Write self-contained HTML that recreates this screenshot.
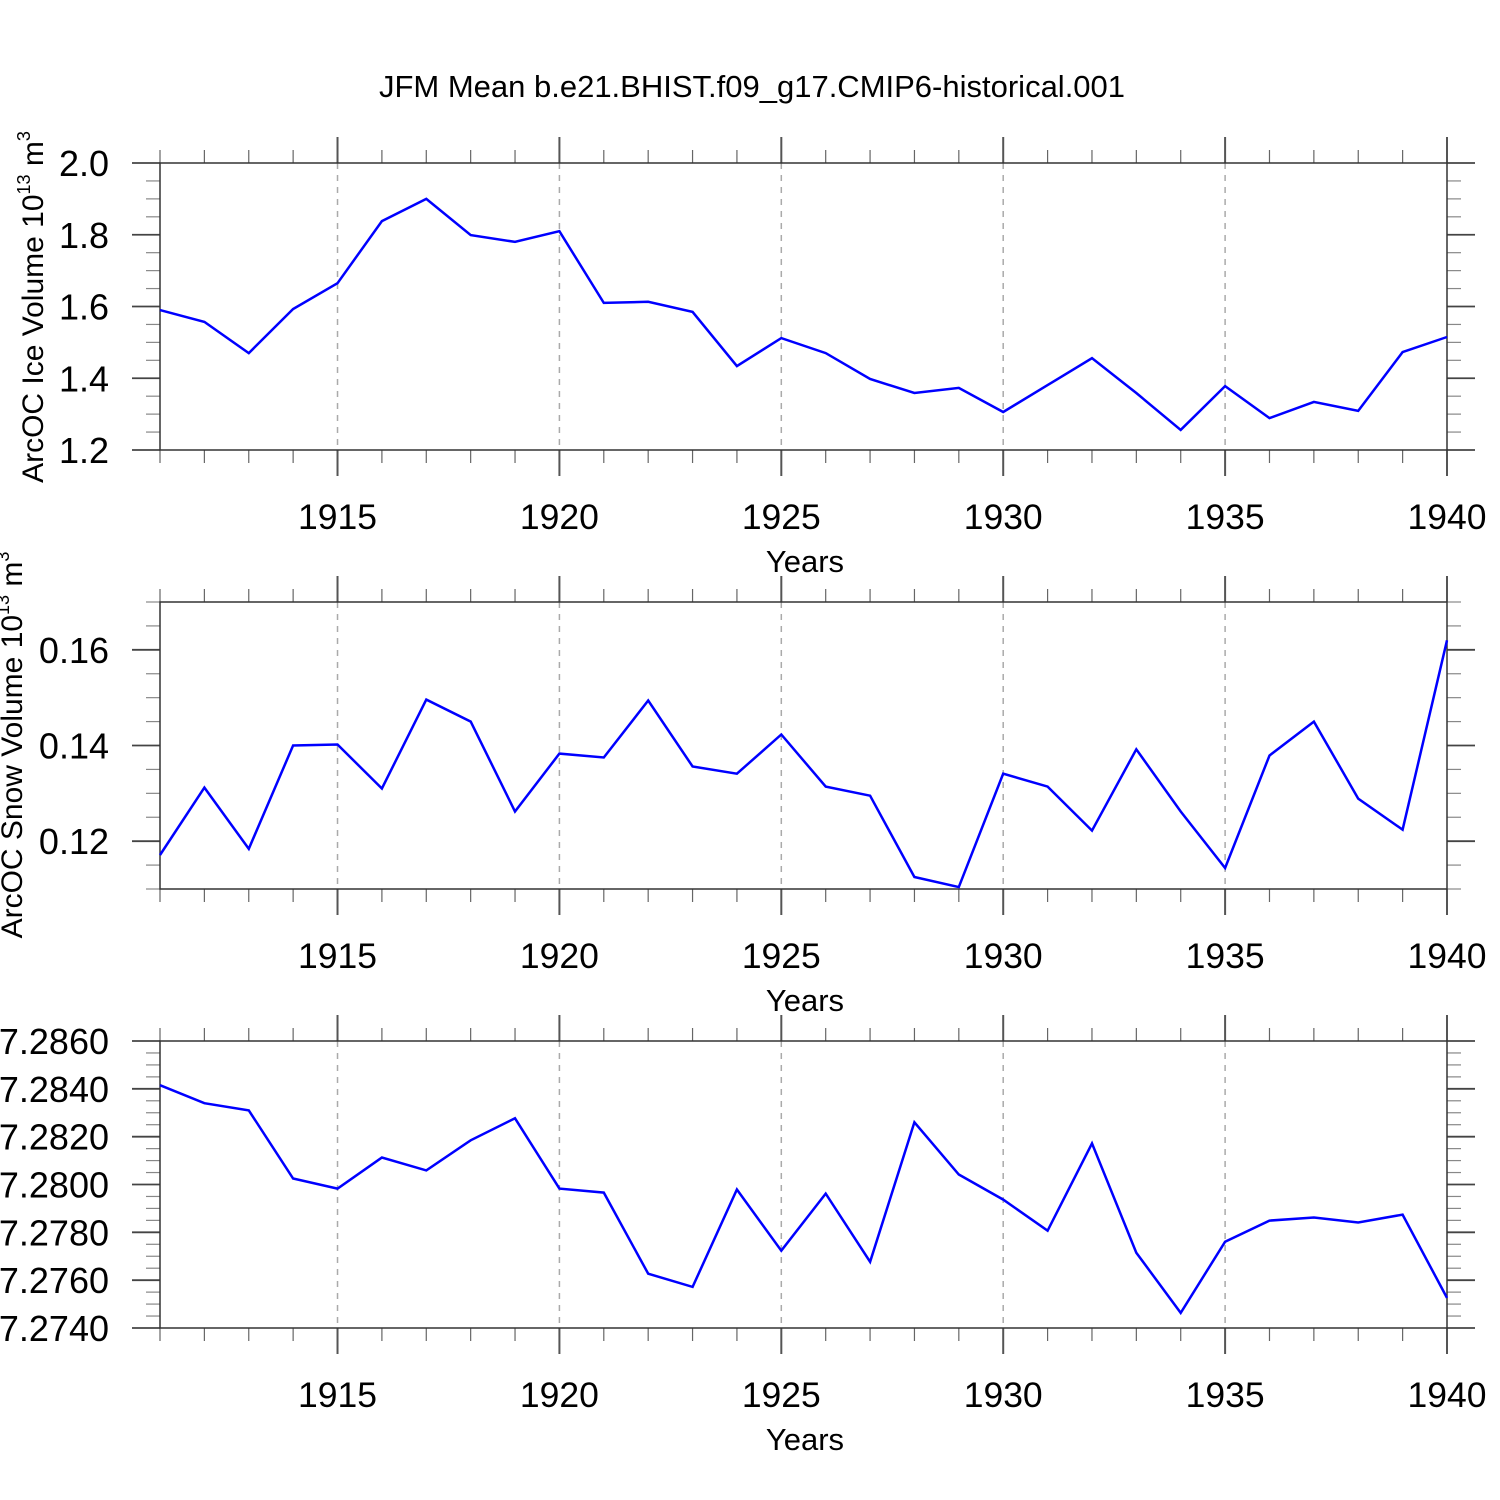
<!DOCTYPE html>
<html><head><meta charset="utf-8"><style>
html,body{margin:0;padding:0;background:#fff;}
svg{display:block;font-family:"Liberation Sans",sans-serif;}
</style></head><body>
<svg id="chart" width="1500" height="1500" viewBox="0 0 1500 1500" xmlns="http://www.w3.org/2000/svg">
<rect width="1500" height="1500" fill="#fff"/>
<text x="752" y="97" font-size="31" text-anchor="middle">JFM Mean b.e21.BHIST.f09_g17.CMIP6-historical.001</text>
</svg>
<script>
const years = [1911,1912,1913,1914,1915,1916,1917,1918,1919,1920,1921,1922,1923,1924,1925,1926,1927,1928,1929,1930,1931,1932,1933,1934,1935,1936,1937,1938,1939,1940];
const iceVolume = [1.590,1.557,1.470,1.593,1.665,1.838,1.900,1.799,1.780,1.810,1.610,1.613,1.585,1.434,1.512,1.470,1.398,1.359,1.373,1.306,1.381,1.456,1.359,1.256,1.378,1.289,1.334,1.309,1.473,1.515];
const snowVolume = [0.1171,0.1312,0.1184,0.1400,0.1402,0.1310,0.1496,0.1450,0.1262,0.1383,0.1375,0.1494,0.1356,0.1341,0.1423,0.1314,0.1295,0.1125,0.1104,0.1341,0.1314,0.1222,0.1392,0.1262,0.1144,0.1379,0.1450,0.1289,0.1224,0.1620];
const thirdSeries = [7.28415,7.28340,7.28310,7.28025,7.27983,7.28113,7.28059,7.28185,7.28277,7.27983,7.27966,7.27627,7.27572,7.27979,7.27723,7.27962,7.27677,7.28260,7.28042,7.27937,7.27807,7.28172,7.27715,7.27463,7.27761,7.27849,7.27862,7.27841,7.27874,7.27526];
const xTickLabels = [1915,1920,1925,1930,1935,1940];
const iceTicks = [1.2,1.4,1.6,1.8,2.0];
const snowTicks = [0.12,0.14,0.16];
const thirdTicks = [7.274,7.276,7.278,7.280,7.282,7.284,7.286];

const NS = "http://www.w3.org/2000/svg";
const svg = document.getElementById('chart');
const X0 = 160, X1 = 1447;
const xs = y => X0 + (y - 1911) / (1940 - 1911) * (X1 - X0);
function mk(tag, attrs, parent) {
  const e = document.createElementNS(NS, tag);
  for (const k in attrs) e.setAttribute(k, attrs[k]);
  (parent || svg).appendChild(e);
  return e;
}
const panels = [
  {name:'ice', top:163, data:iceVolume, ymin:1.2, ymax:2.0, ticks:iceTicks, minor:0.05, dec:1, labelX:109, title:'ArcOC Ice Volume 10', tcx:43, tcy:307},
  {name:'snow', top:602, data:snowVolume, ymin:0.11, ymax:0.17, ticks:snowTicks, minor:0.005, dec:2, labelX:109, title:'ArcOC Snow Volume 10', tcx:22, tcy:745},
  {name:'third', top:1041, data:thirdSeries, ymin:7.274, ymax:7.286, ticks:thirdTicks, minor:0.0005, dec:4, labelX:109, title:null}
];
panels.forEach(p => {
  const T = p.top, B = p.top + 287;
  const ys = v => B - (v - p.ymin) / (p.ymax - p.ymin) * (B - T);
  const g = mk('g', {});
  
  
  xTickLabels.forEach(yr => {
    if (yr === 1940) return;
    const l = mk('line', {x1:xs(yr), x2:xs(yr), y1:T, y2:B, stroke:'#aaa', 'stroke-width':1.5, 'stroke-dasharray':'6,6'}, g);
    
    
  });
  years.forEach(yr => {
    const major = xTickLabels.includes(yr);
    const len = major ? 26 : 13;
    mk('line', {x1:xs(yr), x2:xs(yr), y1:T, y2:T-len, stroke:major?'#555':'#666', 'stroke-width':major?2:1.2}, g);
    mk('line', {x1:xs(yr), x2:xs(yr), y1:B, y2:B+len, stroke:major?'#555':'#666', 'stroke-width':major?2:1.2}, g);
  });
  const n = Math.round((p.ymax - p.ymin) / p.minor);
  for (let i = 0; i <= n; i++) {
    const v = p.ymin + i * p.minor;
    const major = p.ticks.some(t => Math.abs(t - v) < p.minor / 10);
    const len = major ? 28 : 14;
    const y = ys(v);
    mk('line', {x1:X0, x2:X0-len, y1:y, y2:y, stroke:major?'#444':'#888', 'stroke-width':major?1.8:1.2}, g);
    mk('line', {x1:X1, x2:X1+len, y1:y, y2:y, stroke:major?'#444':'#888', 'stroke-width':major?1.8:1.2}, g);
  }
  p.ticks.forEach(t => {
    const tx = mk('text', {x:p.labelX, y:ys(t)+13, 'font-size':36, 'text-anchor':'end'}, g);
    
    
    tx.textContent = t.toFixed(p.dec);
  });
  const box = mk('rect', {x:X0, y:T, width:X1-X0, height:B-T, fill:'none', stroke:'#333', 'stroke-width':1.5}, g);
  
  
  xTickLabels.forEach(yr => {
    const tx = mk('text', {x:xs(yr), y:B+79, 'font-size':35.5, 'text-anchor':'middle'}, g);
    
    
    tx.textContent = yr;
  });
  const xt = mk('text', {x:805, y:B+122, 'font-size':31, 'text-anchor':'middle'}, g);
  
  
  xt.textContent = 'Years';
  if (p.title) {
    const yt = mk('text', {x:0, y:0, 'font-size':30, 'text-anchor':'middle', transform:'translate('+p.tcx+','+p.tcy+') rotate(-90)'}, g);
    
    
    yt.appendChild(document.createTextNode(p.title));
    const s1 = mk('tspan', {'font-size':18, dy:-13}, yt); s1.textContent = '13';
    const s2 = mk('tspan', {'font-size':30, dy:13}, yt); s2.textContent = ' m';
    const s3 = mk('tspan', {'font-size':18, dy:-13}, yt); s3.textContent = '3';
  }
  const pts = p.data.map((v, i) => xs(years[i]).toFixed(1) + ',' + ys(v).toFixed(1)).join(' ');
  const line = mk('polyline', {points:pts, fill:'none', stroke:'#0000ff', 'stroke-width':2.5, 'stroke-linejoin':'miter'}, g);
  
  
});
</script>
</body></html>
